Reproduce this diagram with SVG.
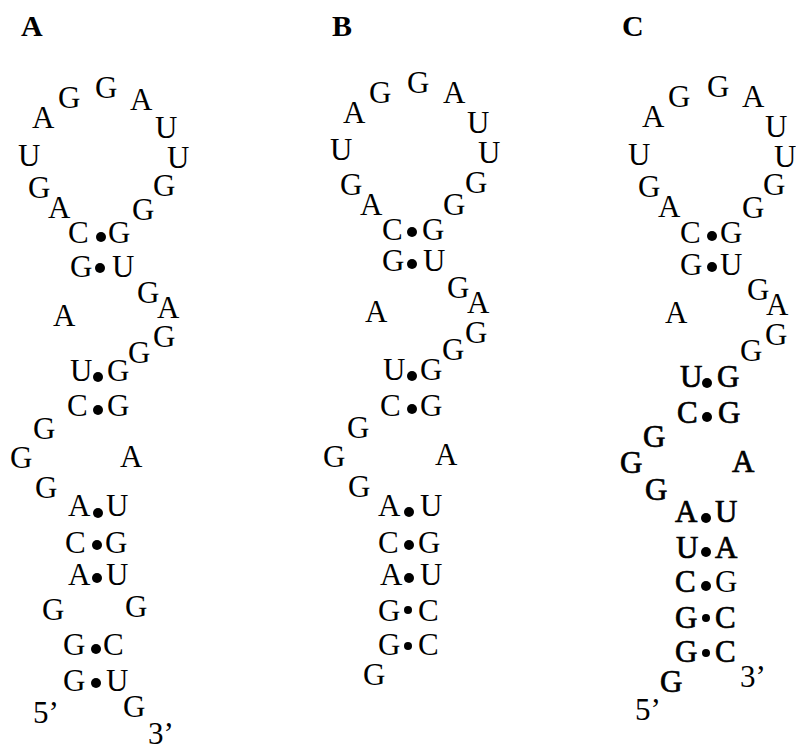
<svg xmlns="http://www.w3.org/2000/svg" width="796" height="750" viewBox="0 0 796 750">
<style>
text{font-family:"Liberation Serif","Times New Roman",serif;font-size:31px;fill:#000}
.lbl{font-weight:bold;font-size:30px}
.b{stroke:#000;stroke-width:0.7}
circle{fill:#000}
</style>
<rect width="796" height="750" fill="#fff"/>
<g id="panelA">
<text class="lbl" x="21" y="36">A</text>
<text x="95" y="98">G</text><text x="58" y="108">G</text><text x="130" y="110">A</text>
<text x="32" y="128">A</text><text x="155" y="138">U</text><text x="18" y="166">U</text>
<text x="167" y="168">U</text><text x="28" y="198">G</text><text x="153" y="196">G</text>
<text x="48" y="218">A</text><text x="132" y="220">G</text>
<text x="68" y="243">C</text><text x="108" y="243">G</text>
<text x="70" y="277">G</text><text x="112" y="277">U</text>
<text x="137" y="303">G</text><text x="157" y="318">A</text><text x="53" y="326">A</text>
<text x="153" y="347">G</text><text x="128" y="363">G</text>
<text x="70" y="381">U</text><text x="107" y="381">G</text>
<text x="67" y="416">C</text><text x="107" y="416">G</text>
<text x="33" y="439">G</text><text x="10" y="468">G</text><text x="120" y="467">A</text>
<text x="35" y="498">G</text>
<text x="68" y="516">A</text><text x="106" y="516">U</text>
<text x="65" y="553">C</text><text x="105" y="553">G</text>
<text x="68" y="585">A</text><text x="106" y="585">U</text>
<text x="42" y="620">G</text><text x="125" y="617">G</text>
<text x="63" y="655">G</text><text x="103" y="655">C</text>
<text x="63" y="691">G</text><text x="106" y="691">U</text>
<text x="33" y="723">5’</text><text x="123" y="717">G</text><text x="148" y="744">3’</text>
</g>
<g id="panelB">
<text class="lbl" x="332" y="36">B</text>
<text x="407" y="93">G</text><text x="369" y="103">G</text><text x="443" y="103">A</text>
<text x="343" y="123">A</text><text x="467" y="133">U</text><text x="330" y="160">U</text>
<text x="478" y="163">U</text><text x="340" y="195">G</text><text x="465" y="193">G</text>
<text x="360" y="215">A</text><text x="443" y="215">G</text>
<text x="382" y="240">C</text><text x="422" y="240">G</text>
<text x="382" y="271">G</text><text x="423" y="271">U</text>
<text x="447" y="298">G</text><text x="467" y="313">A</text><text x="365" y="322">A</text>
<text x="465" y="343">G</text><text x="442" y="360">G</text>
<text x="383" y="380">U</text><text x="420" y="380">G</text>
<text x="380" y="416">C</text><text x="420" y="416">G</text>
<text x="347" y="438">G</text><text x="323" y="467">G</text><text x="435" y="465">A</text>
<text x="348" y="497">G</text>
<text x="378" y="516">A</text><text x="420" y="516">U</text>
<text x="378" y="553">C</text><text x="418" y="553">G</text>
<text x="380" y="585">A</text><text x="420" y="585">U</text>
<text x="378" y="621">G</text><text x="418" y="621">C</text>
<text x="378" y="655">G</text><text x="418" y="655">C</text>
<text x="363" y="685">G</text>
</g>
<g id="panelC">
<text class="lbl" x="622" y="36">C</text>
<text x="707" y="97">G</text><text x="668" y="107">G</text><text x="742" y="107">A</text>
<text x="642" y="127">A</text><text x="765" y="137">U</text><text x="628" y="165">U</text>
<text x="774" y="167">U</text><text x="638" y="197">G</text><text x="763" y="195">G</text>
<text x="658" y="217">A</text><text x="742" y="218">G</text>
<text x="680" y="243">C</text><text x="720" y="243">G</text>
<text x="680" y="275">G</text><text x="720" y="275">U</text>
<text x="747" y="300">G</text><text x="766" y="315">A</text><text x="665" y="323">A</text>
<text x="765" y="345">G</text><text x="740" y="361">G</text>
<text class="b" x="680" y="387">U</text><text class="b" x="717" y="387">G</text>
<text class="b" x="677" y="423">C</text><text class="b" x="718" y="423">G</text>
<text class="b" x="643" y="447">G</text><text class="b" x="620" y="473">G</text><text class="b" x="732" y="472">A</text>
<text class="b" x="645" y="500">G</text>
<text class="b" x="675" y="522">A</text><text class="b" x="715" y="522">U</text>
<text class="b" x="676" y="558">U</text><text class="b" x="715" y="558">A</text>
<text class="b" x="675" y="592">C</text><text x="715" y="592">G</text>
<text class="b" x="675" y="628">G</text><text class="b" x="715" y="628">C</text>
<text class="b" x="675" y="662">G</text><text class="b" x="715" y="662">C</text>
<text x="740" y="687">3’</text><text class="b" x="660" y="692">G</text><text x="635" y="720">5’</text>
</g>
<g id="pairs">
<circle cx="101" cy="237" r="5"/><circle cx="100" cy="268" r="5"/><circle cx="98" cy="377" r="5"/>
<circle cx="98" cy="410" r="5"/><circle cx="98" cy="513" r="5"/><circle cx="97" cy="545" r="5"/>
<circle cx="97" cy="578" r="5"/><circle cx="96" cy="649" r="5"/><circle cx="96" cy="683" r="5"/>
<circle cx="412" cy="232" r="5"/><circle cx="412" cy="264" r="5"/><circle cx="412" cy="376" r="5"/>
<circle cx="412" cy="409" r="5"/><circle cx="409" cy="512" r="5"/><circle cx="409" cy="545" r="5"/>
<circle cx="409" cy="578" r="5"/><circle cx="408" cy="610" r="4"/><circle cx="408" cy="646" r="4"/>
<circle cx="712" cy="236" r="5"/><circle cx="712" cy="267" r="5"/><circle cx="707" cy="383" r="5"/>
<circle cx="707" cy="417" r="5"/><circle cx="706" cy="518" r="5"/><circle cx="706" cy="552" r="5"/>
<circle cx="706" cy="586" r="5"/><circle cx="706" cy="618" r="4"/><circle cx="706" cy="653" r="4"/>
</g>
</svg>
